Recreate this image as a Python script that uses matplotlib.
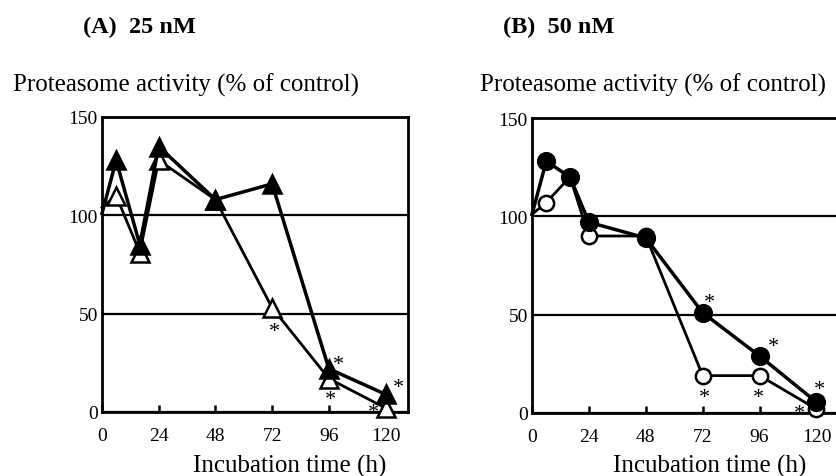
import matplotlib
matplotlib.use("Agg")
import matplotlib.pyplot as plt

plt.rcParams['font.family'] = ['Liberation Serif', 'DejaVu Serif']

# incubation times (h)
hours = [0, 6, 16, 24, 48, 72, 96, 120]

# (A) 25 nM, triangles
a_filled = [101, 128, 85, 135, 108, 116, 22, 9]
a_open = [104, 110, 81, 128, 108, 53, 17, 2]

# (B) 50 nM, circles
b_filled = [101, 128, 120, 97, 89, 51, 29, 5.5]
b_open = [101, 107, 120, 90, 90, 19, 19, 2]

x_ticks = [0, 24, 48, 72, 96, 120]
y_ticks = [0, 50, 100, 150]

# significance marks: (hour, which series)
a_stars = [(72, "open"), (96, "filled"), (96, "open"), (120, "filled"), (120, "open")]
b_stars = [(72, "filled"), (72, "open"), (96, "filled"), (96, "open"), (120, "filled"), (120, "open")]

W, H = 837, 477
fig = plt.figure(figsize=(W / 100, H / 100), dpi=100)


def px_axes(left, top, right, bottom):
    return fig.add_axes([left / W, 1 - bottom / H, (right - left) / W, (bottom - top) / H])


def setup(ax):
    ax.set_xlim(0, 129.5)
    ax.set_ylim(0, 150)
    ax.set_xticks(x_ticks)
    ax.set_yticks(y_ticks)
    ax.tick_params(axis='x', direction='in', length=5, width=1.8, labelsize=14, pad=11)
    ax.tick_params(axis='y', length=0, labelsize=14, pad=3)
    for s in ax.spines.values():
        s.set_linewidth(2.0)
    ax.grid(axis='y', color='black', linewidth=1.6)
    ax.set_axisbelow(True)


def series(ax, vals, marker, filled, ms, lw):
    ax.plot(hours, vals, color='black', linewidth=lw, marker=marker, markersize=ms,
            markerfacecolor='black' if filled else 'white', markeredgecolor='black',
            markeredgewidth=1.8, markevery=list(range(1, len(hours))), zorder=4 if filled else 3,
            clip_on=False)


def stars(ax, marks, data, offsets):
    for (h, which), off in zip(marks, offsets):
        v = data[which][hours.index(h)]
        ax.annotate('*', (h, v), xytext=off, textcoords='offset points',
                    ha='center', va='center', fontsize=16, zorder=5)


axA = px_axes(102, 118, 408, 413)
setup(axA)
series(axA, a_open, '^', False, 13, 2.0)
series(axA, a_filled, '^', True, 13, 2.5)
stars(axA, a_stars, {"filled": a_filled, "open": a_open},
      [(1.5, -17), (7, 3), (1.5, -15), (9, 5), (-9, -3)])

axB = px_axes(532, 119, 839, 414)
setup(axB)
series(axB, b_open, 'o', False, 11, 2.0)
series(axB, b_filled, 'o', True, 12, 2.5)
stars(axB, b_stars, {"filled": b_filled, "open": b_open},
      [(5, 7), (1, -16), (10, 7), (-1, -16), (2, 9), (-12, -3)])

fig.text(83 / W, 1 - 27 / H, "(A)  25 nM", fontsize=17.5, fontweight='bold', va='center')
fig.text(503 / W, 1 - 27 / H, "(B)  50 nM", fontsize=17.5, fontweight='bold', va='center')
fig.text(13 / W, 1 - 85 / H, "Proteasome activity (% of control)", fontsize=18, va='center')
fig.text(480 / W, 1 - 85 / H, "Proteasome activity (% of control)", fontsize=18, va='center')
fig.text(290 / W, 1 - 466 / H, "Incubation time (h)", fontsize=18, ha='center', va='center')
fig.text(710 / W, 1 - 466 / H, "Incubation time (h)", fontsize=18, ha='center', va='center')

fig.savefig("out.png", dpi=100)
